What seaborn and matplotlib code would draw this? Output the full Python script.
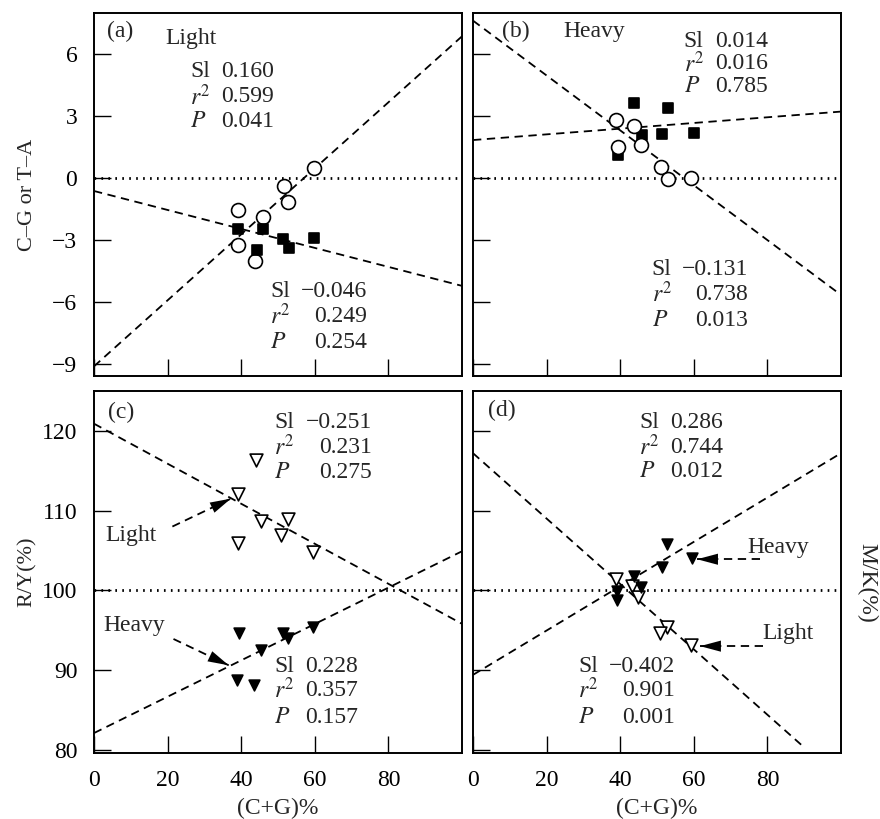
import numpy as np
import pandas as pd
import matplotlib
matplotlib.use("Agg")
import matplotlib.pyplot as plt
import seaborn as sns

# ---------------- data ----------------
# panel (a): C-G or T-A
a_light_x = [59.8, 51.6, 52.7, 39.0, 46.0, 39.0, 43.7]
a_light_y = [0.49, -0.40, -1.15, -1.55, -1.90, -3.25, -4.00]
a_heavy_x = [39.0, 46.0, 51.3, 53.0, 59.8, 44.3]
a_heavy_y = [-2.45, -2.45, -2.95, -3.40, -2.90, -3.50]
# panel (b)
b_light_x = [38.9, 43.8, 45.7, 39.4, 51.1, 53.0, 59.2]
b_light_y = [2.83, 2.54, 1.60, 1.50, 0.55, -0.05, 0.00]
b_heavy_x = [43.8, 53.0, 46.0, 51.4, 60.0, 39.4]
b_heavy_y = [3.64, 3.40, 2.09, 2.15, 2.18, 1.12]
# panel (c): R/Y(%)
c_light_x = [44.0, 39.0, 45.4, 52.6, 50.8, 39.2, 59.5]
c_light_y = [116.3, 112.1, 108.75, 108.96, 106.9, 105.9, 104.8]
c_heavy_x = [39.4, 51.3, 52.6, 59.5, 45.4, 38.8, 43.5]
c_heavy_y = [94.6, 94.6, 93.96, 95.4, 92.5, 88.75, 88.1]
# panel (d): M/K(%)
d_heavy_x = [52.6, 59.4, 51.3, 43.8, 45.7, 39.0, 39.2]
d_heavy_y = [105.8, 104.0, 102.9, 101.8, 100.4, 99.9, 98.75]
d_light_x = [38.8, 43.3, 44.9, 52.6, 50.8, 59.2]
d_light_y = [101.4, 100.6, 99.2, 95.4, 94.6, 93.1]

# fitted lines (intercept, slope, x-end)
a_light_fit = (-9.13, 0.160, 100)
a_heavy_fit = (-0.63, -0.046, 100)
b_heavy_fit = (1.84, 0.0138, 100)
b_light_fit = (7.63, -0.133, 100)
c_light_fit = (120.9, -0.251, 100)
c_heavy_fit = (82.1, 0.228, 100)
d_heavy_fit = (89.4, 0.278, 100)
d_light_fit = (117.2, -0.410, 90)

# statistics text
a_light_stats = ["0.160", "0.599", "0.041"]
a_heavy_stats = ["\u22120.046", "0.249", "0.254"]
b_heavy_stats = ["0.014", "0.016", "0.785"]
b_light_stats = ["\u22120.131", "0.738", "0.013"]
c_light_stats = ["\u22120.251", "0.231", "0.275"]
c_heavy_stats = ["0.228", "0.357", "0.157"]
d_heavy_stats = ["0.286", "0.744", "0.012"]
d_light_stats = ["\u22120.402", "0.901", "0.001"]
stat_labels = ["Sl", "$r^2$", "$P$"]

x_ticks = [0, 20, 40, 60, 80]
ab_yticks = [-9, -6, -3, 0, 3, 6]
cd_yticks = [80, 90, 100, 110, 120]

# ---------------- style ----------------
sns.set_theme(style="ticks")
plt.rcParams["font.family"] = ["Liberation Serif", "DejaVu Serif"]
plt.rcParams["mathtext.fontset"] = "stix"
plt.rcParams["lines.scale_dashes"] = False
FS = 17

W, H = 880, 819
fig = plt.figure(figsize=(W / 100, H / 100), dpi=100)


def add_ax(l, t, r, b):
    return fig.add_axes([l / W, 1 - b / H, (r - l) / W, (b - t) / H])


ax_a = add_ax(94, 13, 462, 376)
ax_b = add_ax(473, 13, 841, 376)
ax_c = add_ax(94, 391, 462, 753)
ax_d = add_ax(473, 391, 841, 753)

DASH = (6, 4)


def fit_line(ax, fit):
    b0, b1, xe = fit
    xs = np.array([0.0, xe])
    ax.plot(xs, b0 + b1 * xs, color="black", lw=1.3, dashes=DASH, zorder=2)


def ref_line(ax, y):
    ax.axhline(y, color="black", lw=2.0, linestyle=(0, (1.2, 3.8)), zorder=1)


def pts(ax, x, y, marker, filled, size):
    df = pd.DataFrame({"x": x, "y": y})
    sns.scatterplot(data=df, x="x", y="y", ax=ax, marker=marker, s=size,
                    color="black" if filled else "white",
                    edgecolor="black", linewidth=1.2, zorder=3, legend=False)


def stats(ax, xl, xr, ys, vals):
    for lab, v, y in zip(stat_labels, vals, ys):
        ax.text(xl, y, lab, fontsize=FS, ha="left", va="center")
        ax.text(xr, y, v, fontsize=FS, ha="right", va="center")


def arrow(ax, x0, y0, x1, y1):
    ax.plot([x0, x1], [y0, y1], color="black", lw=1.3, dashes=DASH, zorder=2)
    fx = x1 - (x1 - x0) * 0.35
    fy = y1 - (y1 - y0) * 0.35
    ax.annotate("", xy=(x1, y1), xytext=(fx, fy),
                arrowprops=dict(arrowstyle="-|>,head_length=0.75,head_width=0.2",
                                color="black", lw=0.01, shrinkA=0, shrinkB=0,
                                mutation_scale=20), zorder=4)


# ---- panel (a)
ref_line(ax_a, 0)
fit_line(ax_a, a_light_fit)
fit_line(ax_a, a_heavy_fit)
pts(ax_a, a_light_x, a_light_y, "o", False, 100)
pts(ax_a, a_heavy_x, a_heavy_y, "s", True, 60)
ax_a.text(3.5, 7.1, "(a)", fontsize=FS, va="center")
ax_a.text(19.3, 6.75, "Light", fontsize=FS, va="center")
stats(ax_a, 26.1, 48.9, [5.15, 3.93, 2.72], a_light_stats)
stats(ax_a, 47.8, 74.2, [-5.49, -6.70, -7.96], a_heavy_stats)

# ---- panel (b)
ref_line(ax_b, 0)
fit_line(ax_b, b_heavy_fit)
fit_line(ax_b, b_light_fit)
pts(ax_b, b_heavy_x, b_heavy_y, "s", True, 60)
pts(ax_b, b_light_x, b_light_y, "o", False, 100)
ax_b.text(7.9, 7.1, "(b)", fontsize=FS, va="center")
ax_b.text(24.5, 7.1, "Heavy", fontsize=FS, va="center")
stats(ax_b, 57.3, 80.2, [6.6, 5.53, 4.42], b_heavy_stats)
stats(ax_b, 48.6, 74.7, [-4.42, -5.63, -6.89], b_light_stats)

# ---- panel (c)
ref_line(ax_c, 100)
fit_line(ax_c, c_light_fit)
fit_line(ax_c, c_heavy_fit)
pts(ax_c, c_light_x, c_light_y, "v", False, 85)
pts(ax_c, c_heavy_x, c_heavy_y, "v", True, 60)
ax_c.text(3.8, 122.25, "(c)", fontsize=FS, va="center")
stats(ax_c, 48.9, 75.5, [121.1, 117.9, 114.75], c_light_stats)
stats(ax_c, 48.9, 71.7, [90.5, 87.4, 84.1], c_heavy_stats)
ax_c.text(3.0, 106.9, "Light", fontsize=FS, va="center")
ax_c.text(2.5, 95.6, "Heavy", fontsize=FS, va="center")
arrow(ax_c, 21.3, 108.0, 37.2, 111.5)
arrow(ax_c, 21.6, 93.9, 36.6, 90.6)

# ---- panel (d)
ref_line(ax_d, 100)
fit_line(ax_d, d_heavy_fit)
fit_line(ax_d, d_light_fit)
pts(ax_d, d_light_x, d_light_y, "v", False, 85)
pts(ax_d, d_heavy_x, d_heavy_y, "v", True, 60)
ax_d.text(4.1, 122.5, "(d)", fontsize=FS, va="center")
stats(ax_d, 45.1, 67.9, [121.0, 117.9, 114.9], d_heavy_stats)
stats(ax_d, 28.5, 54.9, [90.5, 87.4, 84.1], d_light_stats)
ax_d.text(74.5, 105.4, "Heavy", fontsize=FS, va="center")
ax_d.text(78.5, 94.6, "Light", fontsize=FS, va="center")
arrow(ax_d, 78.0, 103.9, 60.9, 103.9)
arrow(ax_d, 78.8, 93.0, 61.7, 93.0)

# ---- axes formatting
for ax in (ax_a, ax_b, ax_c, ax_d):
    ax.set_xlim(0, 100)
    ax.set_xticks(x_ticks)
    ax.tick_params(direction="in", length=12, width=1.0, labelsize=FS,
                   colors="black", top=False, right=False)
    ax.tick_params(axis="y", pad=12)
    ax.tick_params(axis="x", pad=12)
    for s in ax.spines.values():
        s.set_linewidth(1.4)
        s.set_color("black")
        s.set_visible(True)
    ax.set_xlabel("")
    ax.set_ylabel("")

for ax in (ax_a, ax_b):
    ax.set_ylim(-9.6, 8)
    ax.set_yticks(ab_yticks)
    ax.set_yticklabels(["\u2212" + str(-t) if t < 0 else str(t) for t in ab_yticks])
    ax.tick_params(labelbottom=False)
for ax in (ax_c, ax_d):
    ax.set_ylim(79.6, 125)
    ax.set_yticks(cd_yticks)
for ax in (ax_b, ax_d):
    ax.tick_params(labelleft=False)

ax_a.set_ylabel("C\u2013G or T\u2013A", fontsize=FS - 1)
ax_a.yaxis.set_label_coords(-0.155, 0.5)
ax_c.set_ylabel("R/Y(%)", fontsize=FS - 1)
ax_c.yaxis.set_label_coords(-0.155, 0.5)
ax_c.set_xlabel("(C+G)%", fontsize=FS)
ax_c.xaxis.set_label_coords(0.5, -0.124)
ax_d.set_xlabel("(C+G)%", fontsize=FS)
ax_d.xaxis.set_label_coords(0.5, -0.124)
ax_d.yaxis.set_label_position("right")
ax_d.set_ylabel("M/K(%)", fontsize=FS, rotation=-90, va="center")
ax_d.yaxis.set_label_coords(1.07, 0.47)

fig.savefig("out.png", dpi=100)
